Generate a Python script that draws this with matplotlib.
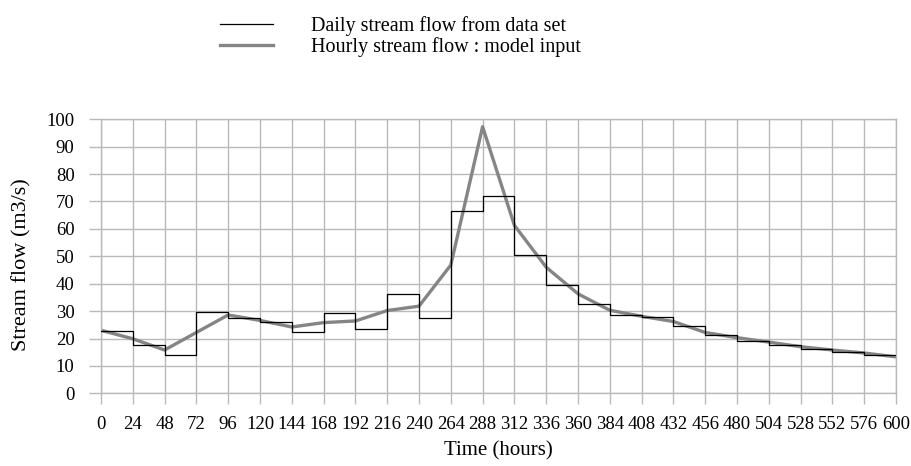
import matplotlib.pyplot as plt
from matplotlib.lines import Line2D
import numpy as np

plt.rcParams["font.family"] = ["Liberation Serif", "DejaVu Serif"]

# hours at the start of each day, plus the end of the record
hours = np.arange(0, 601, 24)

# daily stream flow (m3/s), one value per day (0-24, 24-48, ...)
daily_flow = [22.8, 17.7, 14.0, 29.5, 27.4, 25.9, 22.3, 29.2, 23.4, 36.4,
              27.3, 66.5, 72.0, 50.6, 39.4, 32.5, 28.4, 28.0, 24.4, 21.1,
              19.2, 17.6, 16.1, 15.1, 14.1]

# hourly model input (m3/s) at each day boundary
hourly_flow = [23.0, 19.9, 15.8, 22.2, 28.6, 26.6, 24.2, 25.8, 26.4, 30.2,
               31.8, 46.8, 97.3, 61.3, 46.0, 36.3, 30.3, 28.1, 26.2, 22.2,
               20.3, 18.7, 17.0, 15.8, 14.7, 13.3]

GRID = "#b9b9b9"

fig = plt.figure(figsize=(9.12, 4.66), dpi=100, facecolor="white")
ax = fig.add_axes([0.1107, 0.156, 0.8718, 0.588])

ax.plot(hours, hourly_flow, color="#858585", linewidth=2.4, zorder=2)
ax.step(hours, daily_flow + daily_flow[-1:], where="post", color="black",
        linewidth=0.9, zorder=3)

ax.set_xlim(0, 600)
ax.set_ylim(0, 100)
ax.set_xticks(hours)
ax.set_yticks(np.arange(0, 101, 10))
ax.grid(True, color=GRID, linewidth=1.0, zorder=0)
ax.set_axisbelow(True)
for side in ax.spines.values():
    side.set_color(GRID)
    side.set_linewidth(1.0)
ax.tick_params(axis="both", color=GRID, width=1.0, labelsize=13.5)
ax.tick_params(axis="y", length=9, pad=10)
ax.tick_params(axis="x", length=8, pad=8)

ax.set_xlabel("Time (hours)", fontsize=15, labelpad=6)
ax.set_ylabel("Stream flow (m3/s)", fontsize=16)
ax.yaxis.set_label_coords(-0.087, 0.47)

handles = [Line2D([], [], color="black", linewidth=0.9),
           Line2D([], [], color="#858585", linewidth=2.4)]
labels = ["Daily stream flow from data set", "Hourly stream flow : model input"]
fig.legend(handles, labels, loc="upper left", bbox_to_anchor=(0.2245, 0.998),
           frameon=False, fontsize=14.5, handlelength=2.64, handletextpad=1.9,
           labelspacing=0.05, borderaxespad=0.35)

fig.savefig("out.png", dpi=100, facecolor="white")
